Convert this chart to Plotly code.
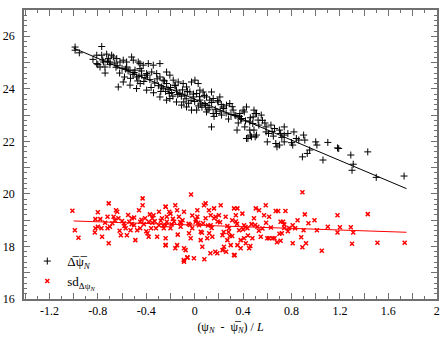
import plotly.graph_objects as go

mean_x = [-0.988, -0.988, -0.953, -0.768, -0.809, -0.768, -0.727, -0.686, -0.672, -0.713,
          -0.699, -0.754, -0.741, -0.782, -0.809, -0.644, -0.617, -0.59, -0.562, -0.521,
          -0.507, -0.466, -0.452, -0.562, -0.534, -0.493, -0.452, -0.425, -0.383, -0.342,
          -0.287, -0.355, -0.397, -0.438, -0.48, -0.631, -0.59, -0.534, -0.48, -0.397,
          -0.314, -0.287, -0.26, -0.232, -0.205, -0.177, -0.136, -0.273, -0.232, -0.164,
          -0.095, -0.067, -0.026, 0.002, 0.029, 0.043, -0.15, -0.122, -0.081, -0.04,
          -0.012, 0.016, 0.07, 0.098, 0.139, 0.043, 0.084, 0.125, 0.153, 0.194,
          0.208, 0.235, 0.263, 0.29, 0.318, 0.332, 0.373, 0.4, 0.428, 0.387,
          0.414, 0.455, 0.483, 0.511, 0.524, 0.455, 0.428, 0.469, 0.511, 0.139,
          0.18, 0.222, -0.287, -0.232, -0.205, -0.15, -0.108, -0.067, -0.026, 0.016,
          0.098, 0.153, 0.55, 0.59, 0.61, 0.59, 0.6, 0.66, 0.7, 0.71,
          0.74, 0.74, 0.67, 0.68, 0.7, 0.74, 0.81, 0.84, 0.86, 0.82,
          0.9, 0.91, 0.89, 0.93, 0.95, 1.0, 1.01, 1.06, 1.1, 1.18,
          1.19, 1.29, 1.31, 1.3, 1.43, 1.5, 1.73, 0.49, 0.5, 0.44,
          0.46, 0.5, 0.49, 0.48, 0.35, 0.56, 0.63, 0.65, 0.77, 0.8,
          -0.72, -0.66, -0.6, -0.55, -0.5, -0.46, -0.41, -0.37, -0.33, -0.3,
          -0.26, -0.22, -0.19, -0.14, -0.11, -0.07, -0.03, 0.0, 0.05, 0.09,
          0.12, 0.17, 0.21, 0.26, 0.3, 0.34, 0.38, 0.42, -0.62, -0.45,
          -0.36, -0.18, -0.05, 0.11, 0.28, 0.36, -0.58, -0.42, -0.24, 0.06,
          -0.84, -0.76, -0.7, -0.64, -0.57, -0.51, -0.44, -0.39, -0.31, -0.25,
          -0.2, -0.16, -0.1, -0.06, -0.01, 0.04, 0.08, 0.14, 0.19, 0.24,
          0.31, 0.37, 0.41, 0.46, 0.53, 0.58, 0.64, 0.72, -0.8, -0.74,
          -0.65, -0.53, -0.47, -0.34, -0.28, -0.21, -0.09, 0.03, 0.16, 0.22]
mean_y = [25.59, 25.47, 25.37, 25.61, 25.28, 25.28, 25.32, 25.28, 25.21, 25.15,
          25.02, 25.02, 24.83, 24.83, 24.96, 25.15, 25.02, 25.09, 25.02, 25.21,
          25.09, 25.02, 24.96, 24.83, 24.71, 24.71, 24.77, 24.9, 24.96, 24.9,
          24.96, 24.64, 24.58, 24.52, 24.45, 24.07, 24.26, 24.14, 24.01, 23.95,
          24.58, 24.45, 24.33, 24.64, 24.52, 24.33, 24.26, 24.07, 24.2, 24.14,
          24.2, 24.07, 24.26, 24.33, 24.2, 23.95, 23.95, 23.82, 23.76, 23.88,
          23.69, 23.82, 23.88, 23.69, 23.88, 23.57, 23.44, 23.57, 23.63, 23.5,
          23.69, 23.31, 23.38, 23.44, 23.19, 23.0, 23.06, 23.19, 23.31, 22.87,
          22.55, 22.74, 22.93, 23.06, 22.81, 22.43, 22.11, 22.17, 22.24, 22.55,
          23.06, 23.0, 23.69, 23.57, 23.63, 23.5, 23.38, 23.31, 23.19, 23.19,
          23.12, 23.06, 23.0, 22.55, 22.3, 22.36, 21.98, 22.49, 22.43, 22.3,
          22.55, 22.24, 21.92, 21.79, 21.86, 21.98, 21.86, 22.11, 22.05, 22.36,
          22.24, 22.05, 21.41, 21.54, 21.67, 21.98, 21.86, 21.29, 21.96, 21.75,
          21.73, 21.48, 21.13, 20.9, 21.6, 20.63, 20.68, 23.19, 23.06, 22.11,
          22.24, 22.17, 22.43, 22.68, 22.43, 22.8, 22.62, 22.2, 22.3, 21.95,
          25.05, 24.98, 24.78, 24.68, 24.62, 24.48, 24.42, 24.35, 24.22, 24.12,
          24.02, 23.98, 23.86, 23.78, 23.72, 23.62, 23.55, 23.52, 23.42, 23.36,
          23.28, 23.22, 23.15, 23.08, 23.02, 22.98, 22.85, 22.78, 24.6, 24.2,
          24.05, 23.72, 23.45, 23.2, 22.85, 22.7, 24.45, 24.28, 23.9, 23.3,
          25.12, 25.1, 24.92, 24.88, 24.75, 24.55, 24.68, 24.52, 24.38, 24.3,
          24.05, 24.12, 23.96, 23.9, 23.8, 23.7, 23.75, 23.48, 23.55, 23.25,
          23.32, 22.95, 23.12, 22.9, 22.62, 22.7, 22.38, 22.15, 24.92, 24.6,
          24.82, 24.4, 24.3, 23.85, 23.9, 23.82, 23.5, 23.35, 22.95, 23.4]

sd_x = [-1.01, -0.99, -0.96, -0.8, -0.82, -0.78, -0.82, -0.825, -0.8, -0.77,
        -0.765, -0.71, -0.71, -0.72, -0.72, -0.7, -0.67, -0.65, -0.64, -0.63,
        -0.61, -0.585, -0.57, -0.56, -0.54, -0.53, -0.52, -0.5, -0.49, -0.475,
        -0.46, -0.45, -0.43, -0.43, -0.45, -0.41, -0.39, -0.38, -0.38, -0.36,
        -0.35, -0.34, -0.32, -0.31, -0.295, -0.295, -0.27, -0.255, -0.24, -0.24,
        -0.23, -0.03, -0.24, -0.21, -0.23, -0.24, -0.2, -0.17, -0.16, -0.145,
        -0.13, -0.116, -0.1, -0.088, -0.24, -0.24, -0.145, -0.16, -0.088, -0.075,
        -0.06, -0.088, -0.006, -0.047, -0.033, -0.02, 0.008, 0.022, 0.022, 0.036,
        0.05, 0.05, 0.063, 0.077, 0.09, 0.09, 0.104, 0.118, 0.132, 0.132,
        0.146, 0.16, 0.16, 0.173, 0.187, 0.2, 0.215, 0.23, 0.242, 0.256,
        0.27, 0.284, 0.298, 0.31, 0.325, 0.325, 0.34, 0.353, 0.353, 0.367,
        0.38, 0.394, 0.408, 0.408, 0.422, 0.436, 0.45, 0.477, 0.49, 0.505,
        0.518, 0.532, 0.546, 0.573, 0.587, 0.6, 0.643, -0.09, -0.06, 0.08,
        0.13, 0.17, 0.23, 0.26, 0.33, 0.38, 0.46, 0.89, 0.67, 0.69,
        0.75, 0.615, 0.71, 0.73, 0.74, 0.81, 0.85, 0.91, 0.94, 0.99,
        0.74, 0.78, 0.83, 0.77, 0.72, 0.9, 1.01, 0.615, 0.66, 0.68,
        0.71, 0.81, 0.89, 0.92, 0.88, 1.05, 1.1, 1.2, 1.29, 1.18,
        1.43, 1.18, 1.31, 1.3, 1.51, 1.735, -0.68, -0.6, -0.52, -0.44,
        -0.35, -0.28, -0.19, -0.12, -0.05, 0.03, 0.11, 0.19, 0.27, 0.35,
        0.42, 0.5, 0.56, -0.62, -0.4, -0.14, 0.06, 0.29,
        -0.74, -0.66, -0.58, -0.5, -0.42, -0.33, -0.26, -0.18, -0.11, -0.04,
        0.01, 0.07, 0.14, 0.21, 0.28, 0.34, 0.4, 0.47, 0.53, 0.59,
        0.63, 0.7, -0.55, -0.37, -0.2, -0.02, 0.12, 0.24, 0.31, 0.44]
sd_y = [19.36, 18.62, 18.33, 19.3, 19.04, 19.04, 18.69, 18.53, 18.75, 18.69,
        18.37, 18.12, 19.64, 19.13, 18.69, 18.75, 19.13, 19.38, 19.32, 19.07,
        18.43, 18.88, 18.69, 18.43, 18.94, 18.62, 19.07, 18.81, 18.24, 18.62,
        19.38, 18.94, 19.83, 19.57, 18.69, 19.07, 18.5, 18.94, 18.37, 18.69,
        19.07, 19.19, 18.69, 18.37, 19.32, 18.81, 19.07, 18.69, 18.05, 19.51,
        18.94, 19.98, 19.51, 19.32, 19.13, 18.81, 18.69, 18.94, 19.57, 19.38,
        19.13, 18.75, 19.0, 19.32, 18.31, 18.05, 18.05, 17.93, 17.93, 17.86,
        17.57, 17.42, 17.55, 18.5, 18.31, 18.69, 18.94, 19.13, 19.38, 18.81,
        18.56, 18.24, 17.99, 19.57, 19.64, 19.07, 18.31, 19.38, 19.19, 18.81,
        18.37, 19.07, 19.45, 19.13, 17.74, 19.19, 19.57, 18.43, 17.99, 19.13,
        18.24, 18.69, 18.05, 19.0, 19.45, 17.67, 19.19, 19.45, 18.05, 18.62,
        18.24, 19.25, 18.81, 18.31, 18.12, 18.69, 17.93, 18.31, 19.07, 19.45,
        18.75, 19.38, 18.37, 19.19, 19.57, 18.31, 18.31, 17.48, 17.59, 17.51,
        17.74, 17.8, 17.86, 17.8, 17.67, 17.93, 18.02, 20.06, 19.35, 19.35,
        19.35, 19.13, 18.94, 18.94, 18.84, 18.81, 19.0, 19.22, 18.88, 19.0,
        18.7, 18.7, 18.69, 18.58, 18.5, 18.62, 18.62, 18.31, 18.31, 18.16,
        18.22, 18.12, 17.97, 18.12, 18.35, 17.84, 18.75, 18.73, 18.73, 19.19,
        19.23, 18.53, 18.53, 18.1, 18.14, 18.14, 18.88, 18.97, 18.85, 19.02,
        18.9, 18.98, 18.84, 18.93, 18.86, 18.9, 18.8, 18.95, 18.78, 18.86,
        18.74, 18.82, 18.68, 18.6, 18.58, 18.45, 18.52, 18.4,
        18.9, 19.0, 18.78, 19.1, 18.85, 18.96, 18.8, 19.05, 18.9, 18.82,
        19.02, 18.88, 18.7, 18.92, 18.55, 18.95, 18.65, 18.85, 18.6, 18.9,
        18.72, 18.48, 19.2, 19.22, 19.25, 19.18, 18.5, 18.55, 18.4, 18.42]

fit_x = [-1.0, 1.75]
mean_fit_y = [25.55, 20.2]
sd_fit_y = [18.97, 18.54]

x_tickvals = [-1.4, -1.2, -1.0, -0.8, -0.6, -0.4, -0.2, 0, 0.2, 0.4, 0.6, 0.8, 1.0, 1.2, 1.4, 1.6, 1.8, 2.0]
x_ticktext = ['', '-1.2', '', '-0.8', '', '-0.4', '', '0', '', '0.4', '', '0.8', '', '1.2', '', '1.6', '', '2']
y_tickvals = [16, 17, 18, 19, 20, 21, 22, 23, 24, 25, 26, 27]
y_ticktext = ['16', '', '18', '', '20', '', '22', '', '24', '', '26', '']


def create_scatter_chart():
    font = "'Liberation Serif', 'Times New Roman', serif"
    fig = go.Figure()
    fig.add_trace(go.Scatter(
        x=mean_x, y=mean_y, mode='markers',
        name='\u0394\u0305\u03c8\u0305<sub><i>N</i></sub>',
        marker=dict(symbol='cross-thin', size=5, line=dict(color='black', width=1))
    ))
    fig.add_trace(go.Scatter(
        x=sd_x, y=sd_y, mode='markers',
        name='sd<sub>\u0394\u03c8<sub><i>N</i></sub></sub>',
        marker=dict(symbol='x-thin', size=4, line=dict(color='red', width=1.5))
    ))
    fig.add_trace(go.Scatter(
        x=fit_x, y=mean_fit_y, mode='lines', showlegend=False,
        line=dict(color='black', width=1)
    ))
    fig.add_trace(go.Scatter(
        x=fit_x, y=sd_fit_y, mode='lines', showlegend=False,
        line=dict(color='red', width=1)
    ))

    axis_style = dict(
        showline=True, linecolor='#707070', linewidth=1.5, mirror='ticks',
        ticks='inside', ticklen=6, tickwidth=1, tickcolor='#707070',
        showgrid=False, zeroline=False, automargin=False,
        tickfont=dict(family=font, size=12, color='black'),
    )
    fig.update_xaxes(
        range=[-1.41, 2.002], tickmode='array', tickvals=x_tickvals, ticktext=x_ticktext,
        minor=dict(dtick=0.1, tick0=0, ticks='inside', ticklen=3, tickcolor='#707070'),
        title=dict(text='(\u03c8<sub><i>N</i></sub>  -  \u03c8\u0305<sub><i>N</i></sub>) / <i>L</i>',
                   font=dict(family=font, size=12, color='black'), standoff=5),
        **axis_style
    )
    fig.update_yaxes(
        range=[16, 27], tickmode='array', tickvals=y_tickvals, ticktext=y_ticktext,
        minor=dict(dtick=0.2, tick0=16, ticks='inside', ticklen=3, tickcolor='#707070'),
        ticklabelstandoff=5,
        **axis_style
    )
    fig.update_layout(
        width=447, height=340,
        margin=dict(l=24, r=10, t=10, b=41),
        plot_bgcolor='white', paper_bgcolor='white',
        font=dict(family=font, size=12, color='black'),
        legend=dict(x=0.008, y=0.183, xanchor='left', yanchor='top',
                    bgcolor='rgba(0,0,0,0)', font=dict(family=font, size=13),
                    tracegroupgap=2, itemwidth=30),
    )
    return fig


fig = create_scatter_chart()
# drop the default body margin so the figure fills the window exactly
fig.write_html("out.html", config={'displayModeBar': False},
               post_script="document.body.style.margin='0';document.body.style.overflow='hidden';")
